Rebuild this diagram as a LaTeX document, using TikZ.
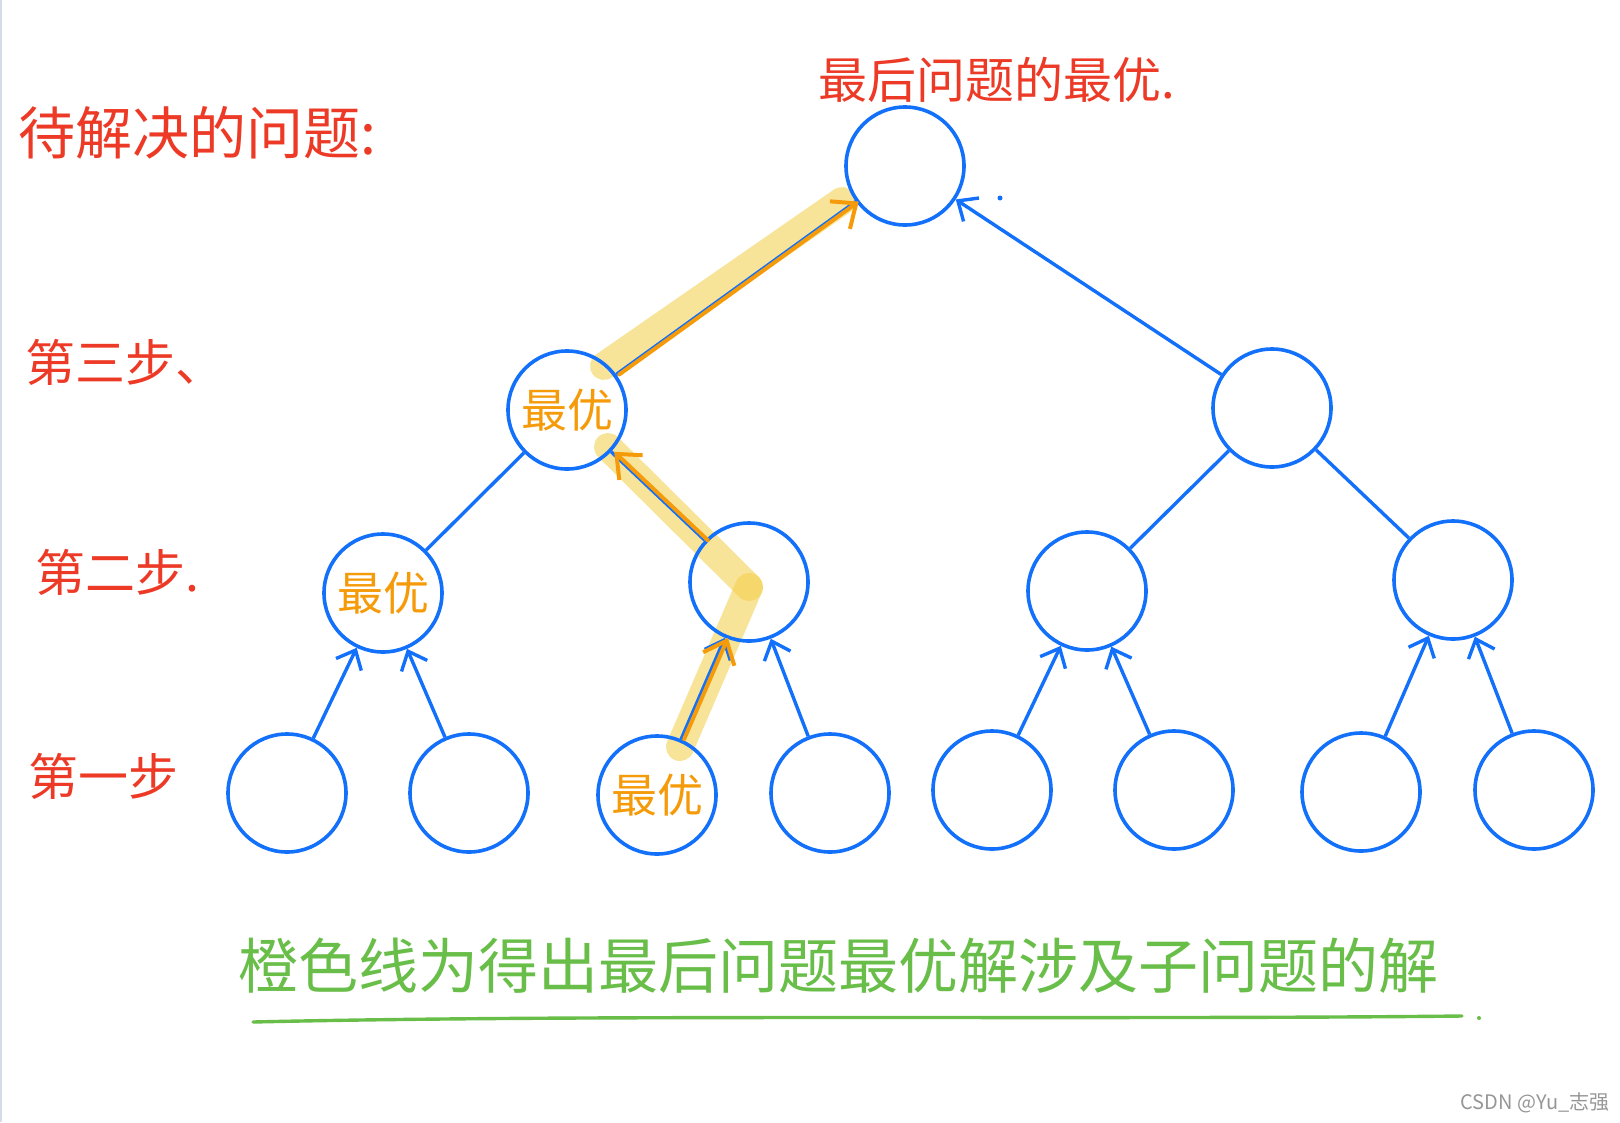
\documentclass[tikz,border=0pt]{standalone}
\usepackage{fontspec}
\setmainfont{Noto Sans CJK SC}
\usetikzlibrary{arrows.meta}
\definecolor{treeblue}{RGB}{18,112,250}
\definecolor{pathorange}{RGB}{245,155,10}
\definecolor{notered}{RGB}{236,58,38}
\definecolor{notegreen}{RGB}{104,190,72}
\definecolor{hiliteyellow}{RGB}{242,205,70}
\definecolor{markgray}{RGB}{150,150,150}
\definecolor{edgegray}{RGB}{214,219,232}
\begin{document}
\begin{tikzpicture}[x=1pt,y=-1pt,
    tnode/.style={circle,draw=treeblue,line width=3.6pt,minimum size=118pt,inner sep=0pt},
    edge/.style={draw=treeblue,line width=3.4pt},
    up/.style={edge,-{Straight Barb[length=16pt,width=28pt]}},
    chosen/.style={draw=pathorange,line width=4pt,line cap=round,
      -{Straight Barb[length=20pt,width=34pt]},transform canvas={xshift=3pt}},
    hilite/.style={draw=hiliteyellow,draw opacity=0.55,line width=28pt,line cap=round},
    note/.style={text=notered,inner sep=0pt,font=\fontsize{50}{50}\selectfont}]
  \useasboundingbox (0,0) rectangle (1620,1122);
  \draw[edgegray,line width=2pt] (1,0) -- (1,1122);
  % highlighter marks
  \draw[hilite] (680,747) -- (749,587);
  \draw[hilite] (749,587) -- (608,447);
  \draw[hilite] (604,366) -- (842,201);
  \draw
    (905,166) node[tnode] (0){}
    (567,410) node[tnode] (1){\makebox[0pt]{\color{pathorange}\fontsize{46}{46}\selectfont 最优}}
    (1272,408) node[tnode] (2){}
    (383,593) node[tnode] (3){\makebox[0pt]{\color{pathorange}\fontsize{46}{46}\selectfont 最优}}
    (749,582) node[tnode] (4){}
    (1087,591) node[tnode] (5){}
    (1453,580) node[tnode] (6){}
    (287,793) node[tnode] (7){}
    (469,793) node[tnode] (8){}
    (657,795) node[tnode] (9){\makebox[0pt]{\color{pathorange}\fontsize{46}{46}\selectfont 最优}}
    (830,793) node[tnode] (10){}
    (992,790) node[tnode] (11){}
    (1174,790) node[tnode] (12){}
    (1361,792) node[tnode] (13){}
    (1534,790) node[tnode] (14){};
  \begin{scope}[edge]
    \draw (0) to (1);
    \draw (1) to (3);
    \draw (1) to (4);
    \draw (2) to (5);
    \draw (2) to (6);
  \end{scope}
  \begin{scope}[up]
    \draw (2) to (0);
    \draw (7) to (3);
    \draw (8) to (3);
    \draw (9) to (4);
    \draw (10) to (4);
    \draw (11) to (5);
    \draw (12) to (5);
    \draw (13) to (6);
    \draw (14) to (6);
  \end{scope}
  % orange path
  \draw[chosen] (9) to (4);
  \draw[chosen] (4) to (1);
  \draw[chosen] (1) to (0);
  \fill[treeblue] (1000,198) circle (2.5pt);
  % labels
  \node[note,anchor=west,font=\fontsize{57}{57}\selectfont] (todo) at (18,133) {待解决的问题:};
  \node[note,font=\fontsize{49}{49}\selectfont] (goal) at (997,80) {最后问题的最优.};
  \node[note,anchor=west] (step3) at (25,362) {第三步、};
  \node[note,anchor=west] (step2) at (35,572) {第二步.};
  \node[note,anchor=west] (step1) at (28,776) {第一步};
  \node[text=notegreen,inner sep=0pt,font=\fontsize{60}{60}\selectfont] (caption) at (838,966) {橙色线为得出最后问题最优解涉及子问题的解};
  \draw[notegreen,line width=3.4pt,line cap=round] (253,1022) .. controls (600,1014) and (1100,1020) .. (1462,1016);
  \fill[notegreen] (1479,1018) circle (2pt);
  \node[text=markgray,font=\fontsize{20}{20}\selectfont] (mark) at (1535,1103) {CSDN @Yu\_志强};
\end{tikzpicture}
\end{document}
